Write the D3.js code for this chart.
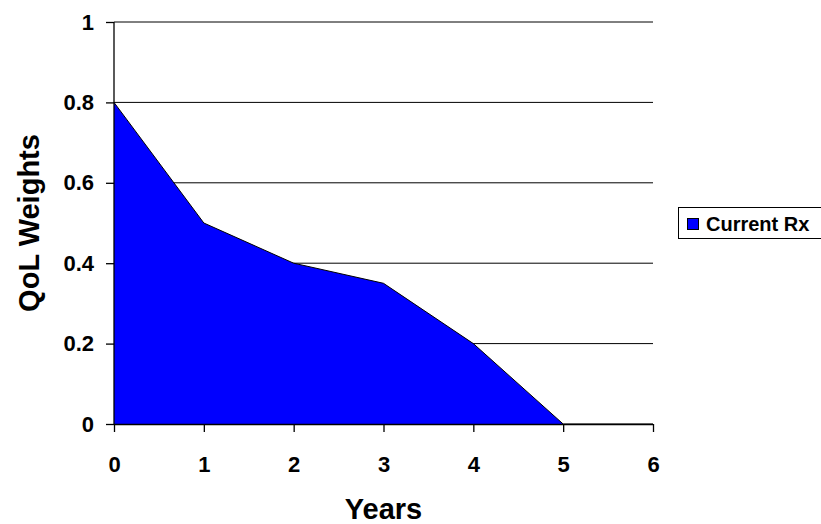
<!DOCTYPE html>
<html>
<head>
<meta charset="utf-8">
<script src="https://cdn.jsdelivr.net/npm/d3@7"></script>
<style>
  body { margin: 0; background: #fff; overflow: hidden; }
  svg { display: block; font-family: "Liberation Sans", Arial, sans-serif; font-weight: bold; }
</style>
</head>
<body>
<div id="chart"></div>
<script>
// data
const years = [0, 1, 2, 3, 4, 5, 6];
const qolWeights = [0.8, 0.5, 0.4, 0.35, 0.2, 0, 0];
const yTicks = [0, 0.2, 0.4, 0.6, 0.8, 1];
const seriesName = "Current Rx";

const W = 821, H = 524;
const margin = ({top: 22, right: 168, bottom: 100, left: 114});
const width = W - margin.left - margin.right;
const height = H - margin.top - margin.bottom;

const svg = d3.select("#chart")
    .append("svg")
    .attr("width", W)
    .attr("height", H)
    .append("g")
    .attr("transform", "translate(" + margin.left + "," + margin.top + ")");

let xScale = d3.scaleLinear().domain([0, 6]).range([0, width]);
let yScale = d3.scaleLinear().domain([0, 1]).range([height, 0]);

const points = years.map((y, i) => ({year: y, value: qolWeights[i]}));

// gridlines
svg.append("g")
    .selectAll("line")
    .data(yTicks.filter(d => d > 0))
    .join("line")
    .attr("x1", 0).attr("x2", width)
    .attr("y1", d => yScale(d)).attr("y2", d => yScale(d))
    .attr("stroke", "#000")
    .attr("stroke-width", 1);

// area
svg.append("path")
    .datum(points)
    .attr("fill", "#0000ff")
    .attr("d", d3.area()
        .x(d => xScale(d.year))
        .y1(d => yScale(d.value))
        .y0(yScale(0)));

svg.append("path")
    .datum(points)
    .attr("fill", "none")
    .attr("stroke", "#000")
    .attr("stroke-width", 1)
    .attr("d", d3.line()
        .x(d => xScale(d.year))
        .y(d => yScale(d.value)));

// axes
let xAxis = d3.axisBottom(xScale)
    .tickValues(years)
    .tickFormat(d3.format("d"))
    .tickSize(8)
    .tickPadding(24);

let yAxis = d3.axisLeft(yScale)
    .tickValues(yTicks)
    .tickFormat(d => d === 0 || d === 1 ? String(d) : d3.format(".1f")(d))
    .tickSize(8)
    .tickPadding(12);

svg.append("g")
    .attr("class", "x-axis")
    .attr("transform", `translate(0, ${height})`)
    .call(xAxis);

svg.append("g")
    .attr("class", "y-axis")
    .call(yAxis);

svg.selectAll(".x-axis path, .y-axis path, .x-axis line, .y-axis line")
    .attr("stroke", "#000")
    .attr("stroke-width", 1.3);
svg.selectAll(".x-axis .domain, .y-axis .domain")
    .attr("d", function() {
        return d3.select(this.parentNode).classed("x-axis")
            ? `M0,0.5H${width}` : `M0,0V${height}`;
    });
svg.selectAll(".x-axis text, .y-axis text")
    .attr("fill", "#000")
    .style("font-size", "22px")
    .style("font-weight", "bold")
    .style("font-family", "'Liberation Sans', Arial, sans-serif");

// axis titles
svg.append("text")
    .attr("x", width / 2)
    .attr("y", height + 95)
    .attr("text-anchor", "middle")
    .style("font-size", "29px")
    .text("Years");

svg.append("text")
    .attr("transform", `translate(${-114 + 39}, ${height / 2}) rotate(-90)`)
    .attr("text-anchor", "middle")
    .style("font-size", "29px")
    .text("QoL Weights");

// legend (box runs past the right edge, as in the original)
const legend = svg.append("g")
    .attr("transform", `translate(${678 - margin.left}, ${207 - margin.top})`);

legend.append("rect")
    .attr("x", 0.5).attr("y", 0.5)
    .attr("width", 160).attr("height", 31)
    .attr("fill", "#fff")
    .attr("stroke", "#000")
    .attr("stroke-width", 1);

legend.append("rect")
    .attr("x", 9.5).attr("y", 11.5)
    .attr("width", 11).attr("height", 11)
    .attr("fill", "#0000ff")
    .attr("stroke", "#000")
    .attr("stroke-width", 1);

legend.append("text")
    .attr("x", 28)
    .attr("y", 24)
    .style("font-size", "20px")
    .text(seriesName);
</script>
</body>
</html>
